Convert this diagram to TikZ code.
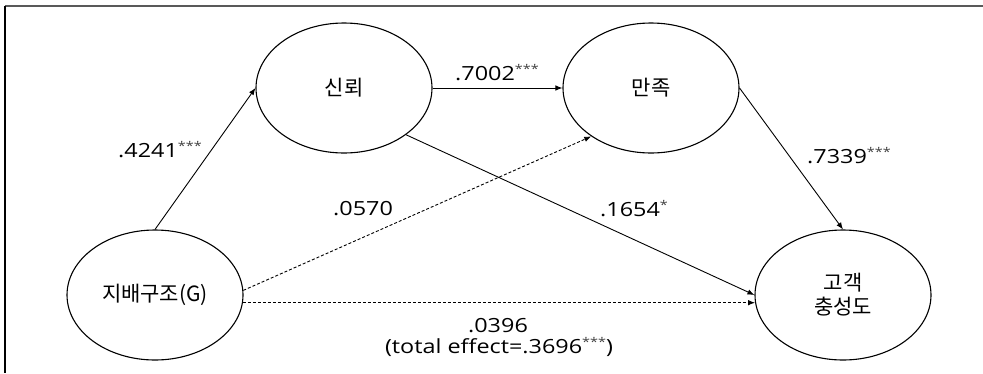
\documentclass[tikz,border=0pt]{standalone}
\usepackage{fontspec}
\setmainfont{Noto Sans CJK KR}
\newfontfamily\latfont[FakeStretch=1.2]{Open Sans}
\usetikzlibrary{shapes.geometric,arrows.meta}
\newcommand{\sig}[1]{\raisebox{6.5pt}{\fontsize{12}{12}\selectfont\color{black!75}#1}}
\begin{document}
\begin{tikzpicture}[x=1pt,y=-1pt,
  latent/.style={draw,ellipse,minimum width=176pt,minimum height=130pt,line width=1.1pt,inner sep=0pt,align=center,font=\fontsize{21}{24}\selectfont},
  conn/.style={line width=0.9pt,-{Latex[length=7pt,width=5.5pt]}},
  dconn/.style={conn,dash pattern=on 3pt off 2pt},
  lbl/.style={font=\latfont\fontsize{19.5}{21}\selectfont,inner sep=0pt}]
\useasboundingbox (0,0) rectangle (983,373);
\draw[black!65,line width=1.5pt] (5,6) -- (983,6);
\draw[line width=1.3pt] (5,6) -- (5,373);
\node[latent] (T) at (344,88) {신뢰};
\node[latent] (S) at (651,88) {만족};
\node[latent] (G) at (155,295) {지배구조(G)};
\node[latent] (L) at (843,295) {고객\\충성도};
\draw[conn] (G.north) -- (T.west);
\draw[conn] (T.east) -- (S.west);
\draw[conn] (S.east) -- (L.north);
\draw[conn] (T.-37) -- (L.west);
\draw[dconn] (G.3) -- (S.-141);
\draw[dconn] (G.-5) -- (L.185);
\node[lbl,anchor=base west] (l1) at (118,157) {.4241\sig{***}};
\node[lbl,anchor=base west] (l2) at (455,80) {.7002\sig{***}};
\node[lbl,anchor=base west] (l3) at (807,163) {.7339\sig{***}};
\node[lbl,anchor=base west] (l4) at (333,215) {.0570};
\node[lbl,anchor=base west] (l5) at (600,216) {.1654\sig{*}};
\node[lbl,anchor=base] (l6) at (498,332) {.0396};
\node[lbl,anchor=base] (l7) at (499,353) {(total effect=.3696\sig{***})};
\end{tikzpicture}
\end{document}
